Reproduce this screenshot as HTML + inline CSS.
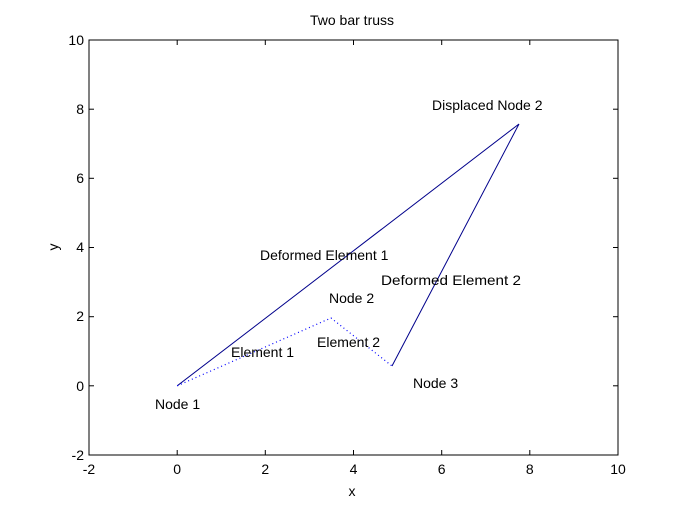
<!DOCTYPE html>
<html><head><style>
html,body{margin:0;padding:0;background:#fff;}
svg text{font-family:"Liberation Sans",sans-serif;font-size:14px;fill:#000;}
</style></head><body>
<svg width="683" height="512" xmlns="http://www.w3.org/2000/svg">
<rect x="0" y="0" width="683" height="512" fill="#fff"/>
<rect x="89" y="40" width="529" height="415" fill="none" stroke="#000" stroke-width="1"/>
<g stroke="#000" stroke-width="1">
<line x1="177.2" y1="455" x2="177.2" y2="450"/><line x1="177.2" y1="40" x2="177.2" y2="45"/>
<line x1="265.3" y1="455" x2="265.3" y2="450"/><line x1="265.3" y1="40" x2="265.3" y2="45"/>
<line x1="353.5" y1="455" x2="353.5" y2="450"/><line x1="353.5" y1="40" x2="353.5" y2="45"/>
<line x1="441.7" y1="455" x2="441.7" y2="450"/><line x1="441.7" y1="40" x2="441.7" y2="45"/>
<line x1="529.8" y1="455" x2="529.8" y2="450"/><line x1="529.8" y1="40" x2="529.8" y2="45"/>
<line x1="89" y1="109.2" x2="94" y2="109.2"/><line x1="618" y1="109.2" x2="613" y2="109.2"/>
<line x1="89" y1="178.3" x2="94" y2="178.3"/><line x1="618" y1="178.3" x2="613" y2="178.3"/>
<line x1="89" y1="247.5" x2="94" y2="247.5"/><line x1="618" y1="247.5" x2="613" y2="247.5"/>
<line x1="89" y1="316.7" x2="94" y2="316.7"/><line x1="618" y1="316.7" x2="613" y2="316.7"/>
<line x1="89" y1="385.8" x2="94" y2="385.8"/><line x1="618" y1="385.8" x2="613" y2="385.8"/>
</g>
<g text-anchor="middle">
<text x="89" y="474">-2</text><text x="177.2" y="474">0</text><text x="265.3" y="474">2</text>
<text x="353.5" y="474">4</text><text x="441.7" y="474">6</text><text x="529.8" y="474">8</text><text x="618" y="474">10</text>
</g>
<g text-anchor="end">
<text x="84" y="45">10</text><text x="84" y="114">8</text><text x="84" y="183">6</text><text x="84" y="252">4</text>
<text x="84" y="321">2</text><text x="84" y="391">0</text><text x="84" y="460">-2</text>
</g>
<text x="352" y="25" text-anchor="middle">Two bar truss</text>
<text x="352" y="496" text-anchor="middle">x</text>
<text transform="translate(58,247) rotate(-90)" text-anchor="middle">y</text>
<polyline points="177.2,385.8 519,124 392,366" fill="none" stroke="#00008b" stroke-width="1"/>
<polyline points="177.2,385.8 331,318 392,366" fill="none" stroke="#0000ff" stroke-width="1.2" stroke-dasharray="1,3"/>
<text x="432" y="110">Displaced Node 2</text>
<text x="260" y="260">Deformed Element 1</text>
<text x="381" y="285" textLength="140" lengthAdjust="spacingAndGlyphs">Deformed Element 2</text>
<text x="329" y="303">Node 2</text>
<text x="231" y="357">Element 1</text>
<text x="317" y="347">Element 2</text>
<text x="413" y="388">Node 3</text>
<text x="155" y="409">Node 1</text>
</svg>
</body></html>
